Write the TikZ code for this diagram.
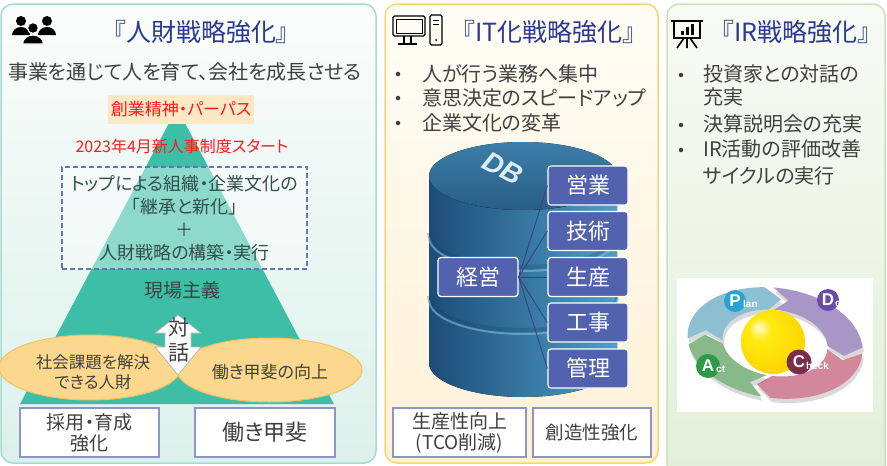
\documentclass[tikz,border=0pt]{standalone}
\usepackage{fontspec}
\setmainfont{Noto Sans CJK JP}[RawFeature={+palt}]
\newfontfamily\latinsans{Liberation Sans}
\usetikzlibrary{shapes.geometric}

\newcommand\fsz[1]{\fontsize{#1}{#1}\selectfont}

% palette
\definecolor{navy}{HTML}{2B3990}
\definecolor{txtgray}{HTML}{404040}
\definecolor{tealedge}{HTML}{A3DCD1}
\definecolor{mintTop}{HTML}{FAFDFC}
\definecolor{mintBot}{HTML}{DCF1EB}
\definecolor{goldedge}{HTML}{F7D774}
\definecolor{creamTop}{HTML}{FFFDF6}
\definecolor{creamBot}{HTML}{FFF1D6}
\definecolor{greenedge}{HTML}{C9E3B8}
\definecolor{leafTop}{HTML}{F8FBF5}
\definecolor{leafBot}{HTML}{E2EFD9}
\definecolor{pyramid}{HTML}{3CBFA6}
\definecolor{peach}{HTML}{FDE8C6}
\definecolor{alertred}{HTML}{FF1A1A}
\definecolor{dashblue}{HTML}{6A72B5}
\definecolor{policytext}{HTML}{2F4F4A}
\definecolor{ovalfill}{HTML}{FCD88E}
\definecolor{ovalline}{HTML}{F2C264}
\definecolor{arrowline}{HTML}{B5B5B5}
\definecolor{boxline}{HTML}{8E96C8}
\definecolor{cylL}{HTML}{1C4C78}
\definecolor{cylR}{HTML}{4F9FC5}
\definecolor{cylTopA}{HTML}{3B7EA8}
\definecolor{cylTopB}{HTML}{285E86}
\definecolor{cylDark}{HTML}{163F63}
\definecolor{cylLight}{HTML}{7DC0DD}
\definecolor{dbtext}{HTML}{DCEDF7}
\definecolor{dbblue}{HTML}{5262AE}
\definecolor{linkblue}{HTML}{3A3F7E}
\definecolor{planC}{HTML}{8DBFD3}
\definecolor{doC}{HTML}{A796C6}
\definecolor{checkC}{HTML}{D3879B}
\definecolor{actC}{HTML}{87B98B}
\definecolor{pDisc}{HTML}{2AA3D3}
\definecolor{dDisc}{HTML}{6A4CAA}
\definecolor{cDisc}{HTML}{7B2D4E}
\definecolor{aDisc}{HTML}{2E9A47}
\definecolor{ballhi}{HTML}{FFFBD0}
\definecolor{ballmid}{HTML}{FFEB10}
\definecolor{ballmid2}{HTML}{FFD400}
\definecolor{ballout}{HTML}{F09A00}

\pgfdeclareradialshading{sunball}{\pgfpoint{-12bp}{12bp}}{%
  color(0bp)=(ballhi); color(9bp)=(ballmid); color(30bp)=(ballmid2); color(50bp)=(ballout)}

\begin{document}
\begin{tikzpicture}[x=1pt,y=-1pt,
  panel/.style={line width=1.5pt, rounded corners=12pt},
  heading/.style={text=navy, font=\fsz{25}},
  bullettext/.style={anchor=west, text=txtgray, font=\fsz{20}, inner sep=0pt},
  bulletdot/.style={circle, fill=txtgray, inner sep=0pt, minimum size=4.5pt},
  whitebox/.style={draw=boxline, line width=1.2pt, fill=white, align=center,
                   text=txtgray, inner sep=0pt},
  dbbox/.style={draw=white, line width=1.3pt, fill=dbblue, rounded corners=3pt,
                text=white, font=\fsz{22}, minimum width=80pt, minimum height=39pt,
                inner sep=0pt},
  link/.style={draw=linkblue, line width=0.8pt},
  oval/.style={ellipse, fill=ovalfill, draw=ovalline, line width=1pt, inner sep=0pt},
  pdcadisc/.style={circle, inner sep=0pt, text=white, font=\latinsans\bfseries\fsz{17}},
  pdcasmall/.style={anchor=west, inner sep=0pt, text=white, font=\latinsans\bfseries\fsz{10}},
]
\useasboundingbox (0,0) rectangle (887,466);

% ---------- three panels ----------
\draw[panel, draw=tealedge, top color=mintTop, bottom color=mintBot] (1,4) rectangle (376,463);
\draw[panel, draw=goldedge, top color=creamTop, bottom color=creamBot] (385,4) rectangle (658,463);
\draw[panel, draw=greenedge, top color=leafTop, bottom color=leafBot] (667,4) rectangle (885,480);

% ========== human resources ==========
% group-of-people icon
\fill (21,21) circle (5pt);
\fill (12,35) arc[start angle=180, end angle=0, x radius=9pt, y radius=8pt] -- cycle;
\fill (47,21) circle (5pt);
\fill (38,35) arc[start angle=180, end angle=0, x radius=9pt, y radius=8pt] -- cycle;
\filldraw[draw=white, line width=1.2pt] (33,28) circle (5.5pt);
\filldraw[draw=white, line width=1.2pt] (22.5,44) arc[start angle=180, end angle=0, x radius=10.5pt, y radius=9pt] -- cycle;

\node[heading] (hrtitle) at (201,32) {『人財戦略強化』};
\node[text=txtgray, font=\fsz{20}] (hrmotto) at (185,72) {事業を通じて人を育て、会社を成長させる};

% pyramid
\fill[pyramid] (177,108) -- (334,404) -- (20,404) -- cycle;
\node[fill=peach, minimum width=146pt, minimum height=29pt, inner sep=0pt,
      text=alertred, font=\fsz{17}] (purpose) at (181,109) {創業精神・パーパス};
\node[text=alertred, font=\fsz{16}] (reform) at (182,146) {2023年4月新人事制度スタート};
\node[draw=dashblue, dashed, dash pattern=on 5pt off 3pt, line width=1.2pt,
      fill=white, fill opacity=0.42, text opacity=1, minimum width=245pt,
      minimum height=102pt, inner sep=0pt, align=center, text=policytext,
      font=\fontsize{18}{23}\selectfont] (policy) at (184.5,218)
  {トップによる組織・企業文化の\\「継承と新化」\\＋\\人財戦略の構築・実行};
\node[text=txtgray, font=\fsz{19}] (genba) at (182,290) {現場主義};

% two overlapping goals
\node[oval, minimum width=182pt, minimum height=65pt] (ovalL) at (90,367.5) {};
\node[oval, minimum width=185pt, minimum height=64pt] (ovalR) at (269.5,370) {};
\node[align=center, text=txtgray, font=\fontsize{16.5}{20}\selectfont] (talent) at (93,372)
  {社会課題を解決\\できる人財};
\node[text=txtgray, font=\fsz{17}] (motiv) at (270,372) {働き甲斐の向上};

% dialogue double arrow
\draw[fill=white, draw=arrowline, line width=0.8pt, line join=miter]
  (178,315) -- (201,333) -- (191,333) -- (191,347) -- (201,347) -- (178,375)
  -- (155,347) -- (165,347) -- (165,333) -- (155,333) -- cycle;
\node[text=txtgray, font=\fsz{21}] (dia1) at (179,328) {対};
\node[text=txtgray, font=\fsz{21}] (dia2) at (179,353) {話};

\node[whitebox, minimum width=139pt, minimum height=49pt,
      font=\fontsize{19}{21}\selectfont] (recruit) at (89.5,432.5) {採用・育成\\強化};
\node[whitebox, minimum width=140pt, minimum height=49pt, font=\fsz{22}]
  (worth) at (265,432.5) {働き甲斐};

% ========== IT ==========
% monitor and tower icon
\draw[line width=1.4pt, rounded corners=1.5pt] (393,16) rectangle (425,36);
\draw[line width=0.8pt] (396,19) rectangle (422,33);
\draw[line width=1.4pt] (404,36) -- (404,43) (411,36) -- (411,43);
\draw[line width=1.4pt] (398,44) -- (417,44);
\draw[line width=1.4pt, rounded corners=1.5pt] (430,15) rectangle (442,45);
\draw[line width=0.9pt] (433,20) -- (439,20) (433,24) -- (439,24);
\fill (436,40) circle (1pt);

\node[heading] (ittitle) at (549,32) {『IT化戦略強化』};
\node[bulletdot] (itdot1) at (398,74) {};
\node[bullettext] (it1) at (422,74) {人が行う業務へ集中};
\node[bulletdot] (itdot2) at (398,98) {};
\node[bullettext] (it2) at (422,98) {意思決定のスピードアップ};
\node[bulletdot] (itdot3) at (398,123) {};
\node[bullettext] (it3) at (422,123) {企業文化の変革};

% database cylinder
\fill[left color=cylL, right color=cylR]
  (429,176) -- (429,363) arc[start angle=180, end angle=360, x radius=94pt, y radius=34pt]
  -- (617,176) -- cycle;
\foreach \gy in {237,300}{
  \draw[cylDark, line width=4pt, opacity=0.25]
    (429,\gy-4) arc[start angle=180, end angle=360, x radius=94pt, y radius=34pt];
  \draw[cylLight, line width=2pt, opacity=0.6]
    (429,\gy) arc[start angle=180, end angle=360, x radius=94pt, y radius=34pt];
}
\fill[top color=cylTopA, bottom color=cylTopB] (523,176) ellipse[x radius=94pt, y radius=34pt];
\node[rotate=-28, text=dbtext, inner sep=0pt, font=\latinsans\bfseries\itshape\fsz{28}] (dblabel) at (503,168) {DB};

\node[dbbox] (mgmt) at (478,277) {経営};
\node[dbbox] (sales) at (588,185.5) {営業};
\node[dbbox] (tech) at (588,231) {技術};
\node[dbbox] (prod) at (588,277) {生産};
\node[dbbox] (works) at (588,322.5) {工事};
\node[dbbox] (admin) at (588,368.5) {管理};
\foreach \t in {sales,tech,prod,works,admin}
  \draw[link] (mgmt.east) -- (\t.west);

\node[whitebox, minimum width=133pt, minimum height=49pt,
      font=\fontsize{19}{21}\selectfont] (tco) at (459.5,432.5) {生産性向上\\(TCO削減)};
\node[whitebox, minimum width=118pt, minimum height=49pt, font=\fsz{18.5}]
  (creat) at (592,432.5) {創造性強化};

% ========== investor relations ==========
% presentation easel icon
\draw[line width=2pt] (671,21) -- (703,21);
\draw[line width=1.6pt] (674,21) rectangle (700,38);
\fill (681,31) rectangle (684,35);
\fill (686,27) rectangle (689,35);
\fill (691,24) rectangle (694,35);
\draw[line width=1.6pt] (687,38) -- (687,48) (684,38) -- (677,48) (690,38) -- (697,48);

\node[heading] (irtitle) at (796,32) {『IR戦略強化』};
\node[bulletdot] (irdot1) at (681,75) {};
\node[bullettext] (ir1) at (703,74) {投資家との対話の};
\node[bullettext] (ir1b) at (703,97) {充実};
\node[bulletdot] (irdot2) at (681,125) {};
\node[bullettext] (ir2) at (703,124) {決算説明会の充実};
\node[bulletdot] (irdot3) at (681,150) {};
\node[bullettext] (ir3) at (703,149) {IR活動の評価改善};
\node[bullettext] (ir3b) at (703,176) {サイクルの実行};

% PDCA cycle
\node[fill=white, minimum width=196pt, minimum height=134pt, inner sep=0pt] (pdcabox) at (775,345) {};
\coordinate (pdcaC) at (775,343);
\begin{scope}[shift={(pdcaC)}, rotate=-8, x=88pt, y=55pt]
  \foreach \a/\b/\c in {188/102/planC, 96/8/doC, 2/-88/checkC, -94/-166/actC}{
    \fill[black, opacity=0.15, shift={(2pt,-4pt)}]
      plot[domain=\a:\b, samples=25] (\x:1) -- ({\b-12}:0.8)
      -- plot[domain=\b:\a, samples=25] (\x:0.6) -- ({\a-12}:0.8) -- cycle;
    \fill[\c]
      plot[domain=\a:\b, samples=25] (\x:1) -- ({\b-12}:0.8)
      -- plot[domain=\b:\a, samples=25] (\x:0.6) -- ({\a-12}:0.8) -- cycle;
  }
\end{scope}
\coordinate (ballC) at (773,342);
\shade[shading=sunball] (ballC) circle (32pt);

\node[pdcadisc, fill=pDisc, minimum size=22pt] (pdisc) at (735,301) {P};
\node[pdcasmall] (plan) at (743,304) {lan};
\node[pdcadisc, fill=dDisc, minimum size=22pt] (ddisc) at (828,300) {D};
\node[pdcasmall] (dolabel) at (835,304) {o};
\node[pdcadisc, fill=cDisc, minimum size=25pt] (cdisc) at (799,362) {C};
\node[pdcasmall] (check) at (806,366) {heck};
\node[pdcadisc, fill=aDisc, minimum size=24pt] (adisc) at (708,366) {A};
\node[pdcasmall] (act) at (716,369) {ct};
\end{tikzpicture}
\end{document}
